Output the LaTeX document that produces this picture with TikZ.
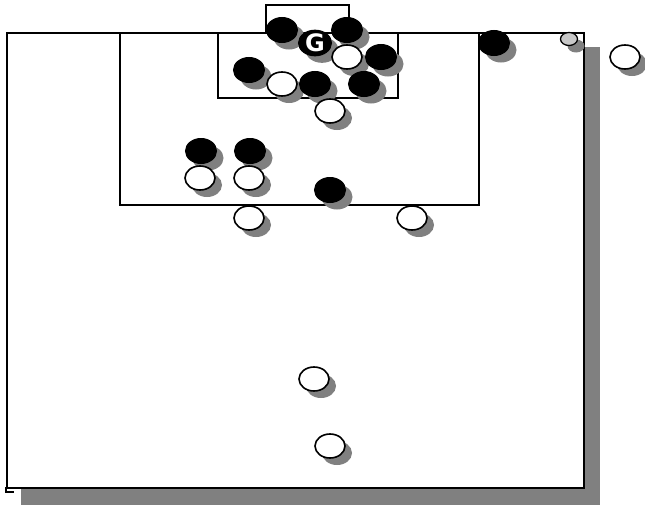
\documentclass[tikz,border=0pt]{standalone}
\usepackage{fontspec}
\newfontfamily\gfont{DejaVu Sans}
\usetikzlibrary{shapes.geometric,shadows}
\definecolor{shd}{RGB}{128,128,128}
\definecolor{lgr}{RGB}{200,200,200}
\tikzset{
  sh/.style={drop shadow={shadow xshift=7pt,shadow yshift=-7pt,fill=shd,opacity=1}},
  bp/.style={ellipse,draw=black,fill=black,line width=1pt,minimum width=31pt,minimum height=25pt,inner sep=0pt,sh},
  wp/.style={ellipse,draw=black,fill=white,line width=1.6pt,minimum width=30pt,minimum height=24pt,inner sep=0pt,sh},
  sp/.style={ellipse,draw=black,fill=lgr,line width=1.3pt,minimum width=17pt,minimum height=13pt,inner sep=0pt,sh},
  fl/.style={line width=1.6pt,draw=black}
}
\begin{document}
\begin{tikzpicture}[x=1pt,y=-1pt]
\useasboundingbox (0,0) rectangle (645,506);
% field shadow and field
\fill[shd] (21,47) rectangle (600,505);
\node[fl,fill=white,anchor=north west,minimum width=577pt,minimum height=455pt,inner sep=0pt] (field) at (6,32) {};
\draw[line width=1.4pt] (6,487) -- (6,492) -- (14,492);
% penalty area, goal area, goal
\draw[fl] (120,32) -- (120,205) -- (479,205) -- (479,32);
\draw[fl] (218,32) -- (218,98) -- (398,98) -- (398,32);
\draw[fl] (266,32) -- (266,5) -- (349,5) -- (349,32);
% players
\node[bp] (b1) at (282,30) {};
\node[bp] (b2) at (347,30) {};
\node[bp,minimum width=33pt,minimum height=25pt,font=\gfont\bfseries\fontsize{24}{24}\selectfont,text=white] (g) at (315,43) {G};
\node[wp] (w1) at (347,57) {};
\node[bp] (b3) at (381,57) {};
\node[bp] (b4) at (249,70) {};
\node[wp] (w2) at (282,84) {};
\node[bp] (b5) at (315,84) {};
\node[bp] (b6) at (364,84) {};
\node[wp] (w3) at (330,111) {};
\node[bp] (b7) at (494,43) {};
\node[sp] (s1) at (569,39) {};
\node[wp] (w4) at (625,57) {};
\node[bp] (b8) at (201,151) {};
\node[bp] (b9) at (250,151) {};
\node[wp] (w5) at (200,178) {};
\node[wp] (w6) at (249,178) {};
\node[bp] (b10) at (330,190) {};
\node[wp] (w7) at (249,218) {};
\node[wp] (w8) at (412,218) {};
\node[wp] (w9) at (314,379) {};
\node[wp] (w10) at (330,446) {};
\end{tikzpicture}
\end{document}
